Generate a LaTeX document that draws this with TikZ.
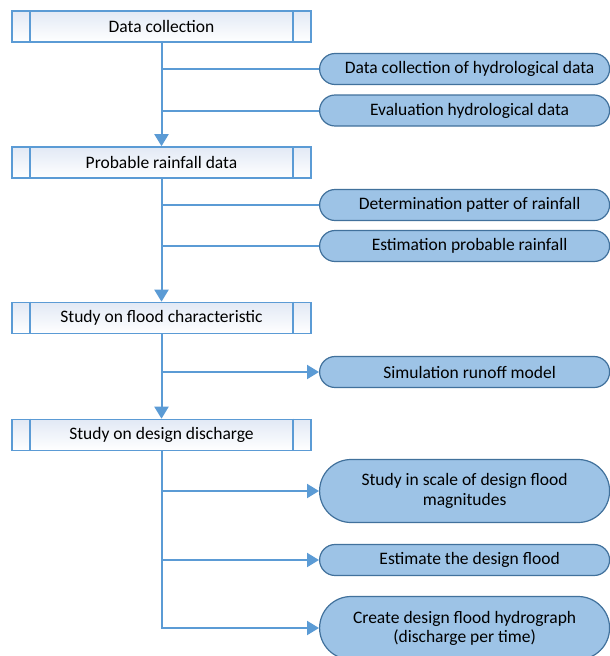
\documentclass[tikz,border=0pt]{standalone}
\usepackage{fontspec}
\setmainfont{Carlito}
\usetikzlibrary{shapes.misc,arrows.meta}
\definecolor{linkblue}{HTML}{5B9BD5}
\definecolor{subfill}{HTML}{9DC3E6}
\definecolor{subdraw}{HTML}{41719C}
\definecolor{proctop}{HTML}{E2E9F5}
\tikzset{
  x=1pt, y=-1pt,
  procbox/.style={rectangle, draw=linkblue, line width=1.6pt, top color=proctop, bottom color=white,
    minimum width=299pt, minimum height=31pt, inner sep=0pt, font=\fontsize{17.5}{20}\selectfont},
  subbox/.style={rounded rectangle, draw=subdraw, line width=1.2pt, fill=subfill,
    minimum width=290pt, minimum height=31pt, inner sep=0pt, align=center, font=\fontsize{17.5}{22}\selectfont},
  link/.style={draw=linkblue, line width=2pt},
  arrowlink/.style={link, -{Triangle[length=12pt,width=14pt]}},
}
\newcommand{\procbars}[1]{%
  \draw[linkblue, line width=1.6pt] ([xshift=19pt]#1.north west) -- ([xshift=19pt]#1.south west);
  \draw[linkblue, line width=1.6pt] ([xshift=-19pt]#1.north east) -- ([xshift=-19pt]#1.south east);}
\begin{document}
\begin{tikzpicture}
\useasboundingbox (0,0) rectangle (610,656);
\fill[white] (0,0) rectangle (610,656);

% main process steps
\node[procbox] (p1) at (161.5,26.5) {Data collection};
\node[procbox] (p2) at (161.5,162.5) {Probable rainfall data};
\node[procbox] (p3) at (161.5,318) {Study on flood characteristic};
\node[procbox] (p4) at (161.5,435) {Study on design discharge};
\procbars{p1}\procbars{p2}\procbars{p3}\procbars{p4}

% sub-tasks
\node[subbox, anchor=west] (s1) at (319,69) {\hspace{10pt}Data collection of hydrological data};
\node[subbox, anchor=west] (s2) at (319,110.5) {\hspace{10pt}Evaluation hydrological data};
\node[subbox, anchor=west] (s3) at (319,205) {\hspace{10pt}Determination patter of rainfall};
\node[subbox, anchor=west] (s4) at (319,246) {\hspace{10pt}Estimation probable rainfall};
\node[subbox, anchor=west] (s5) at (319,372) {\hspace{10pt}Simulation runoff model};
\node[subbox, anchor=west, minimum height=63pt] (s6) at (319,491) {\raisebox{-2pt}{Study in scale of design flood}\\magnitudes};
\node[subbox, anchor=west] (s7) at (319,560) {\hspace{10pt}Estimate the design flood};
\node[subbox, anchor=west, minimum height=63pt] (s8) at (319,628) {\raisebox{-3pt}{Create design flood hydrograph}\\(discharge per time)};

% main flow
\draw[arrowlink] (p1.south) -- (p2.north);
\draw[arrowlink] (p2.south) -- (p3.north);
\draw[arrowlink] (p3.south) -- (p4.north);
\draw[arrowlink] (p4.south) |- (s8.west);

% branches
\draw[link] (p1.south |- s1.west) -- (s1.west);
\draw[link] (p1.south |- s2.west) -- (s2.west);
\draw[link] (p2.south |- s3.west) -- (s3.west);
\draw[link] (p2.south |- s4.west) -- (s4.west);
\draw[arrowlink] (p3.south |- s5.west) -- (s5.west);
\draw[arrowlink] (p4.south |- s6.west) -- (s6.west);
\draw[arrowlink] (p4.south |- s7.west) -- (s7.west);
\end{tikzpicture}
\end{document}
